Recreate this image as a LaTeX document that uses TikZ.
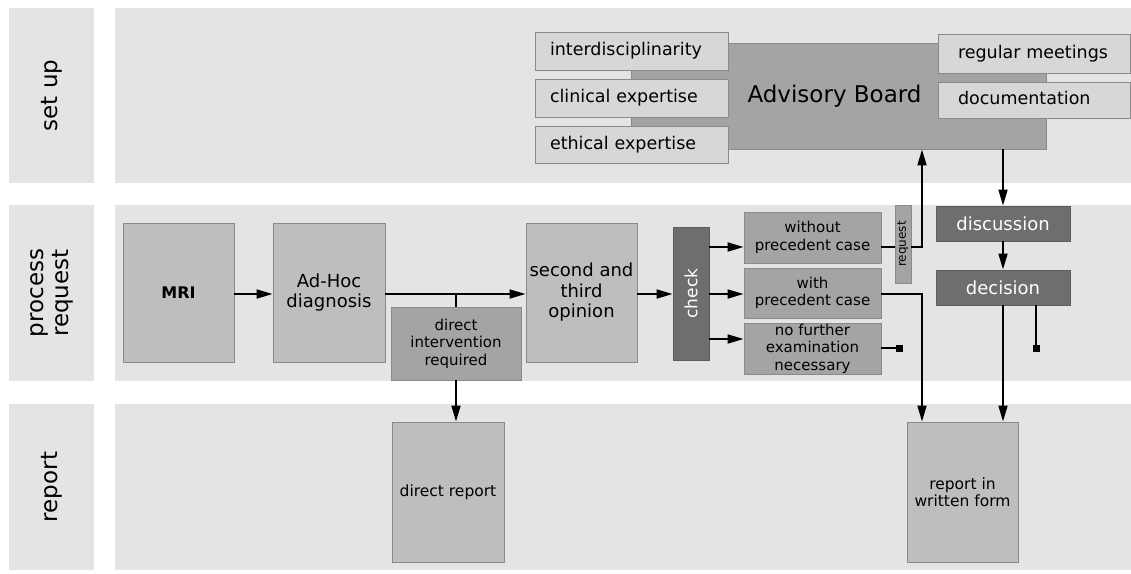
\documentclass[tikz,border=0pt]{standalone}
\usepackage{fontspec}
\setmainfont{DejaVu Sans}
\usetikzlibrary{arrows.meta}
\definecolor{lanegray}{HTML}{E4E4E4}
\definecolor{boxgray}{HTML}{BEBEBE}
\definecolor{midgray}{HTML}{A4A4A4}
\definecolor{attrgray}{HTML}{D7D7D7}
\definecolor{darkgray2}{HTML}{6E6E6E}
\definecolor{edgegray}{HTML}{8A8A8A}
\tikzset{
  lanebg/.style={fill=lanegray, draw=none, inner sep=0pt},
  lanelbl/.style={fill=lanegray, draw=none, inner sep=0pt, rotate=90, align=center, font=\fontsize{23}{25}\selectfont},
  pbox/.style={fill=boxgray, draw=edgegray, line width=0.9pt, inner sep=0pt, align=center, font=\fontsize{18}{20.5}\selectfont},
  mbox/.style={fill=midgray, draw=edgegray, line width=0.9pt, inner sep=0pt, align=center, font=\fontsize{15}{17.5}\selectfont},
  attr/.style={fill=attrgray, draw=edgegray, line width=0.9pt, inner ysep=0pt, align=left, text height=13pt, text depth=4pt, font=\fontsize{17.5}{20}\selectfont},
  dbox/.style={fill=darkgray2, draw=darkgray2!85!black, line width=0.9pt, inner sep=0pt, align=center, text=white, font=\fontsize{18}{20}\selectfont},
  rbox/.style={fill=boxgray, draw=edgegray, line width=0.9pt, inner sep=0pt, align=center, font=\fontsize{15.5}{17.5}\selectfont},
  conn/.style={line width=1.8pt, black},
  arr/.style={conn, -{Triangle[length=16pt,width=9pt]}},
  sqend/.style={conn, -{Square[length=7pt,width=7pt]}}
}
\begin{document}
\begin{tikzpicture}[x=1pt,y=-1pt]
\useasboundingbox (0,0) rectangle (1131,573);
\fill[white] (0,0) rectangle (1131,573);

% lanes
\node[lanebg, minimum width=1016, minimum height=175] (P1) at (623,95.5) {};
\node[lanebg, minimum width=1016, minimum height=176] (P2) at (623,293) {};
\node[lanebg, minimum width=1016, minimum height=166] (P3) at (623,487) {};
\node[lanelbl, minimum width=175, minimum height=85] (L1) at (51.5,95.5) {set up};
\node[lanelbl, minimum width=176, minimum height=85] (L2) at (51.5,293) {process\\request};
\node[lanelbl, minimum width=166, minimum height=85] (L3) at (51.5,487) {report};

% set up
\node[fill=midgray, draw=edgegray, line width=0.9pt, inner sep=0pt, minimum width=415, minimum height=106, font=\fontsize{23}{25}\selectfont] (adv) at (838.5,96) {\hspace*{-8pt}Advisory Board};
\node[attr, inner xsep=15pt, text width=163pt, minimum height=38] (inter) at (631.5,51) {interdisciplinarity};
\node[attr, inner xsep=15pt, text width=163pt, minimum height=38] (clin) at (631.5,98) {clinical expertise};
\node[attr, inner xsep=15pt, text width=163pt, minimum height=37] (eth) at (631.5,144.5) {ethical expertise};
\node[attr, inner xsep=20pt, text width=152pt, minimum height=39] (reg) at (1034,53.5) {regular meetings};
\node[attr, inner xsep=20pt, text width=152pt, minimum height=36] (doc) at (1034,100) {documentation};

% process request
\node[pbox, minimum width=111, minimum height=139, font=\bfseries\fontsize{16}{18}\selectfont] (mri) at (178.5,292.5) {MRI};
\node[pbox, minimum width=112, minimum height=139] (adhoc) at (329,292.5) {Ad-Hoc\\diagnosis};
\node[mbox, minimum width=130, minimum height=73] (direct) at (456,343.5) {direct\\intervention\\required};
\node[pbox, minimum width=111, minimum height=139] (second) at (581.5,292.5) {second and\\third\\opinion};
\node[dbox, rotate=90, minimum width=133, minimum height=36, font=\fontsize{17}{19}\selectfont] (check) at (691,293.5) {check};
\node[mbox, minimum width=137, minimum height=51] (wo) at (812.5,237.5) {without\\precedent case};
\node[mbox, minimum width=137, minimum height=50] (wi) at (812.5,293) {with\\precedent case};
\node[mbox, minimum width=137, minimum height=51] (nf) at (812.5,348.5) {no further\\examination\\necessary};
\node[mbox, rotate=90, minimum width=78, minimum height=16, font=\fontsize{12}{13}\selectfont] (req) at (903,244) {request};
\node[dbox, minimum width=134, minimum height=35] (disc) at (1003,223.5) {discussion};
\node[dbox, minimum width=134, minimum height=35] (deci) at (1003,287.5) {decision};

% report
\node[rbox, minimum width=112, minimum height=140] (drep) at (448,492) {direct report};
\node[rbox, minimum width=111, minimum height=140] (wrep) at (962.5,492) {report in\\written form};

% helper coordinates
\coordinate (y1) at (0,247);
\coordinate (y2) at (0,294);
\coordinate (y3) at (0,339);
\coordinate (vx) at (922,0);
\coordinate (sq1) at (903,348);
\coordinate (sq2) at (1036,352);

% connectors (rotated nodes: .north is their left side, .south their right side)
\draw[arr] (mri.east |- y2) -- (adhoc.west |- y2);
\draw[arr] (adhoc.east |- y2) -- (second.west |- y2);
\draw[conn] (direct.north) -- (direct.north |- y2);
\draw[arr] (direct.south) -- (direct.south |- drep.north);
\draw[arr] (second.east |- y2) -- (check.north |- y2);
\draw[arr] (check.south |- y1) -- (wo.west |- y1);
\draw[arr] (check.south |- y2) -- (wi.west |- y2);
\draw[arr] (check.south |- y3) -- (nf.west |- y3);
\draw[conn] (wo.east |- y1) -- (req.north |- y1);
\draw[arr] (req.south |- y1) -- (vx |- y1) -- (vx |- adv.south);
\draw[arr] (wi.east |- y2) -- (vx |- y2) -- (vx |- wrep.north);
\draw[sqend] (nf.east |- sq1) -- (sq1);
\draw[arr] (adv.south -| disc.north) -- (disc.north);
\draw[arr] (disc.south) -- (deci.north);
\draw[arr] (deci.south) -- (deci.south |- wrep.north);
\draw[sqend] (deci.south -| sq2) -- (sq2);
\end{tikzpicture}
\end{document}
